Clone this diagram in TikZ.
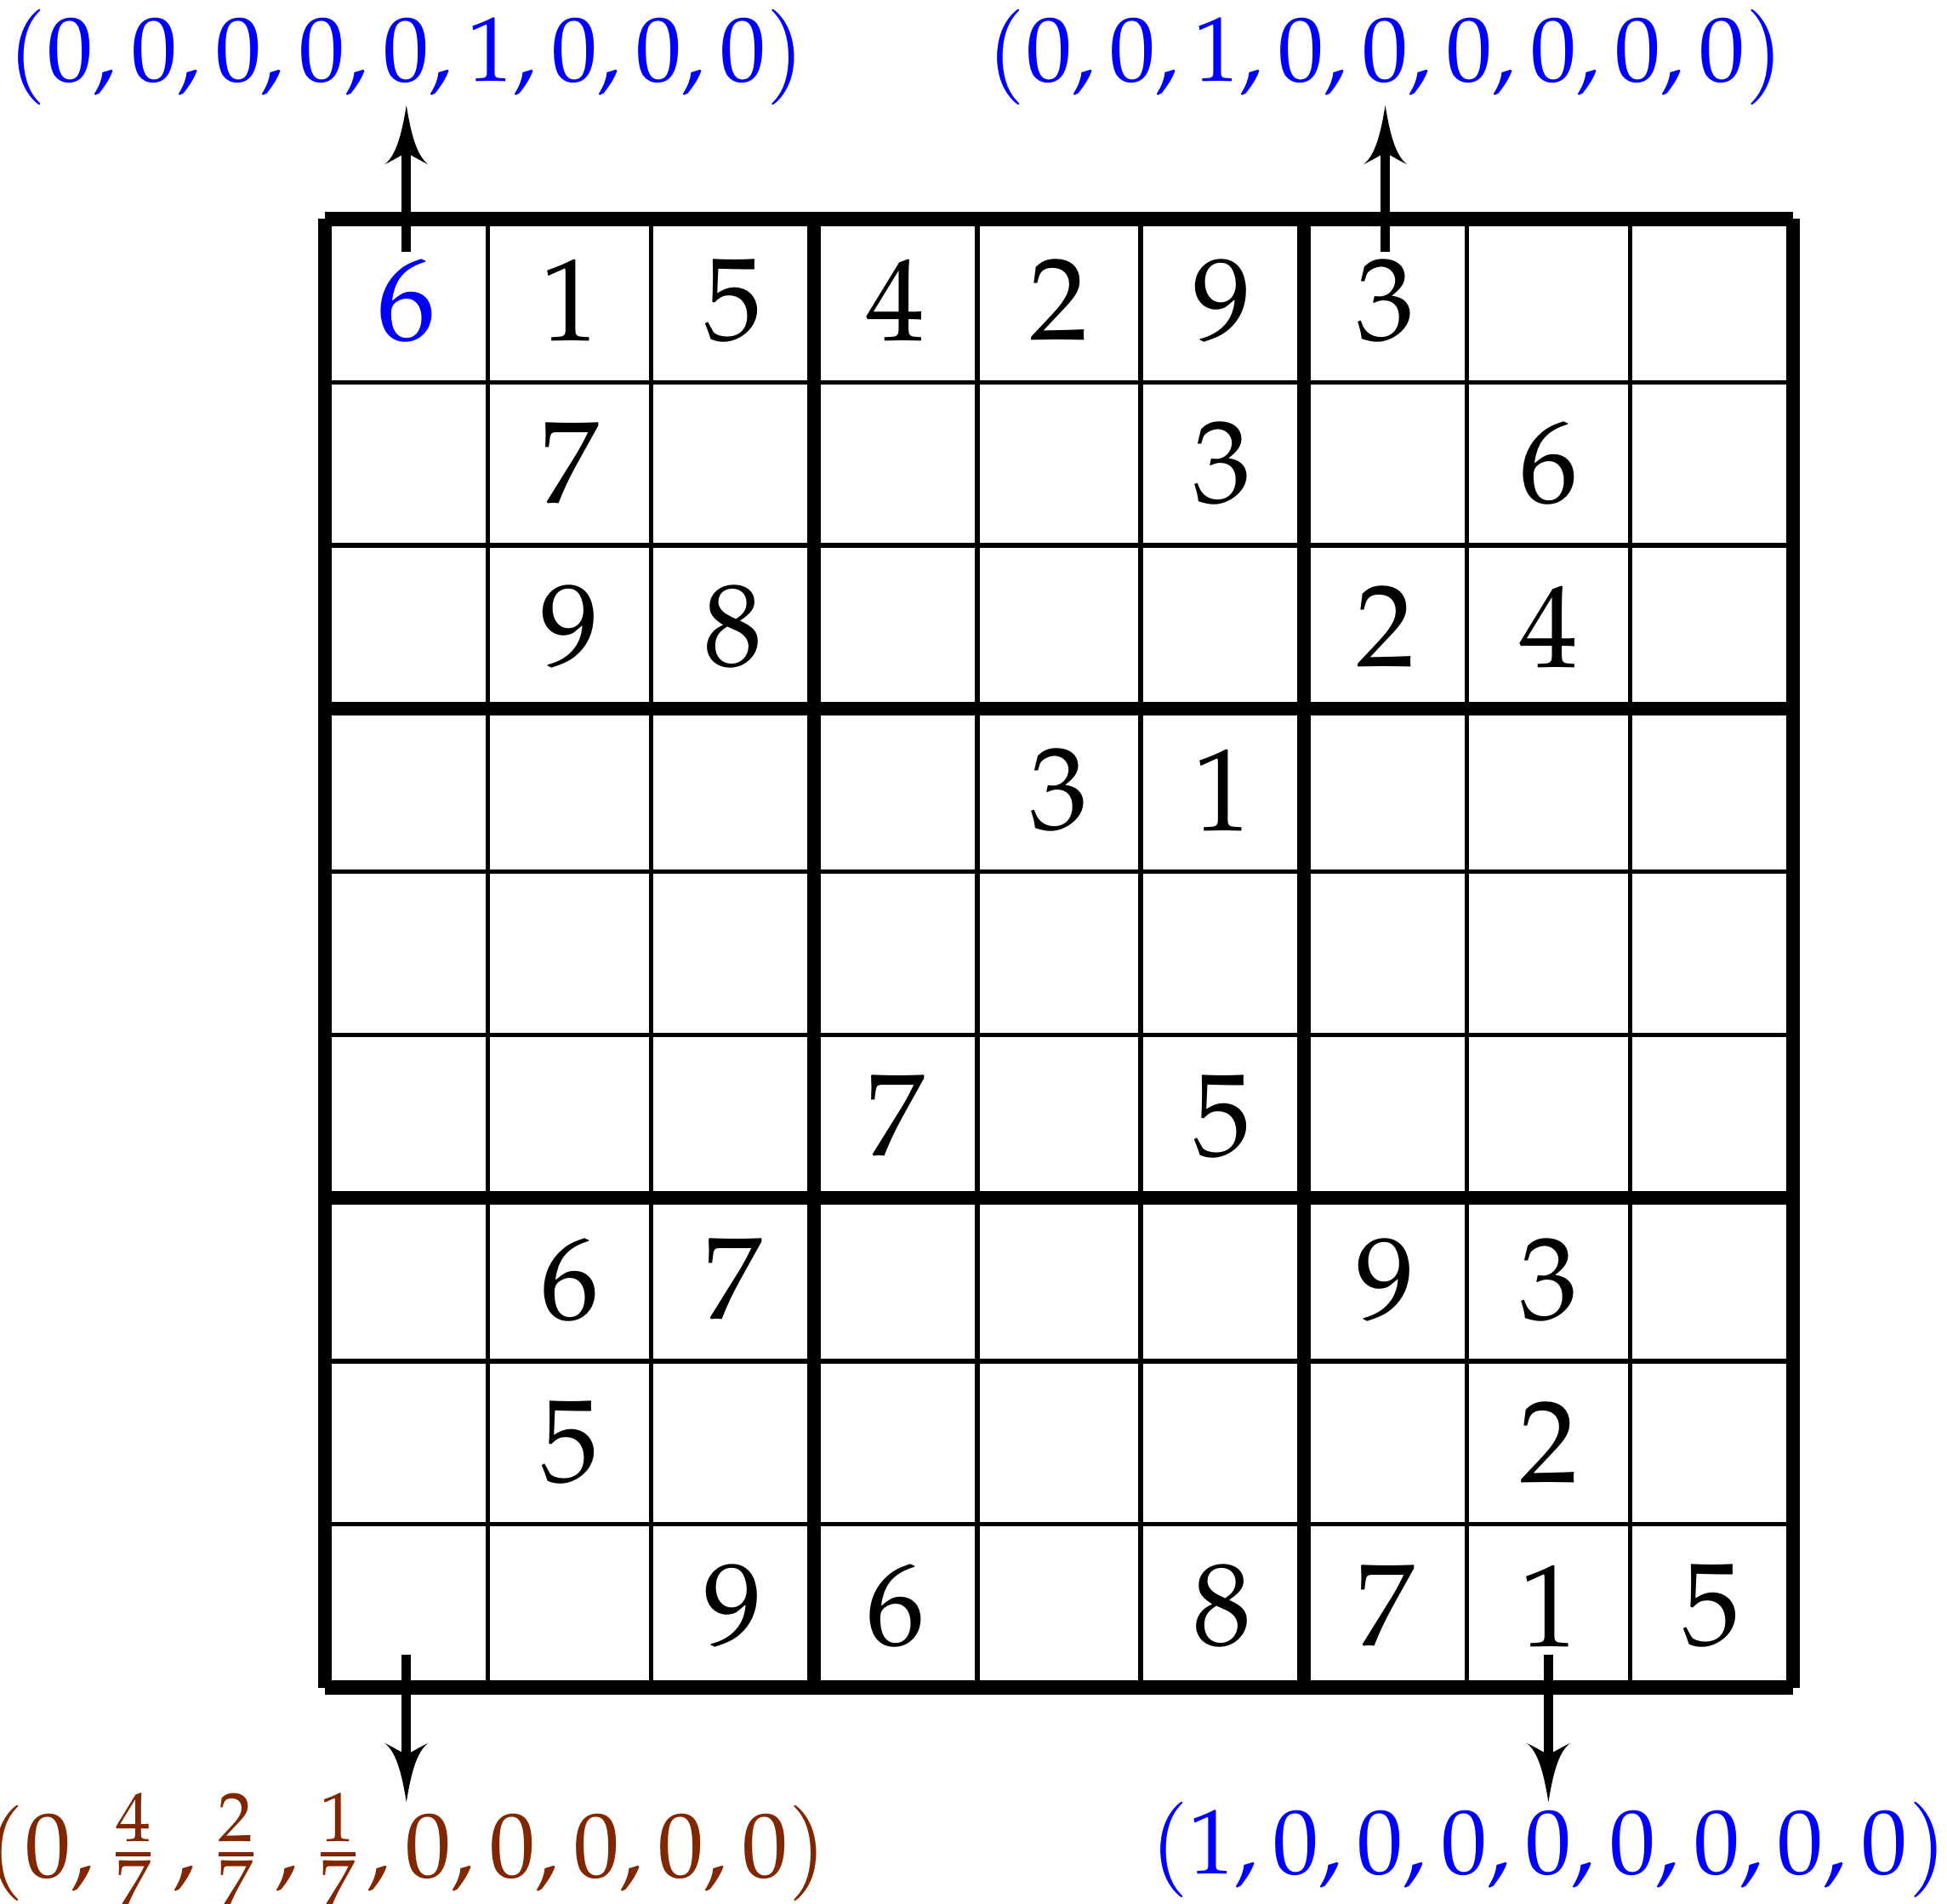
\documentclass[tikz,border=0pt]{standalone}
\usepackage{mathpazo}
\usetikzlibrary{arrows.meta}
\definecolor{labblue}{RGB}{0,0,255}
\definecolor{labbrown}{RGB}{128,38,0}
\pgfdeclarearrow{
  name = Curvy,
  parameters = {\the\pgfarrowlength,\the\pgfarrowwidth,\the\pgfarrowinset},
  setup code = {
    \pgfarrowssettipend{0pt}
    \pgfarrowssetlineend{-.7\pgfarrowlength}
    \pgfarrowssetbackend{-\pgfarrowlength}
    \pgfarrowshullpoint{0pt}{0pt}
    \pgfarrowshullpoint{-\pgfarrowlength}{.5\pgfarrowwidth}
    \pgfarrowshullpoint{-\pgfarrowlength}{-.5\pgfarrowwidth}
    \pgfarrowssavethe\pgfarrowlength
    \pgfarrowssavethe\pgfarrowwidth
    \pgfarrowssavethe\pgfarrowinset
  },
  drawing code = {
    \pgfpathmoveto{\pgfqpoint{0pt}{0pt}}
    \pgfpathcurveto{\pgfqpoint{-.45\pgfarrowlength}{.1\pgfarrowwidth}}{\pgfqpoint{-.85\pgfarrowlength}{.225\pgfarrowwidth}}{\pgfqpoint{-\pgfarrowlength}{.5\pgfarrowwidth}}
    \pgfpathcurveto{\pgfpointadd{\pgfqpoint{-\pgfarrowlength}{.3\pgfarrowwidth}}{\pgfqpoint{.35\pgfarrowinset}{0pt}}}{\pgfpointadd{\pgfqpoint{-\pgfarrowlength}{.12\pgfarrowwidth}}{\pgfqpoint{.85\pgfarrowinset}{0pt}}}{\pgfpointadd{\pgfqpoint{-\pgfarrowlength}{0pt}}{\pgfqpoint{\pgfarrowinset}{0pt}}}
    \pgfpathcurveto{\pgfpointadd{\pgfqpoint{-\pgfarrowlength}{-.12\pgfarrowwidth}}{\pgfqpoint{.85\pgfarrowinset}{0pt}}}{\pgfpointadd{\pgfqpoint{-\pgfarrowlength}{-.3\pgfarrowwidth}}{\pgfqpoint{.35\pgfarrowinset}{0pt}}}{\pgfqpoint{-\pgfarrowlength}{-.5\pgfarrowwidth}}
    \pgfpathcurveto{\pgfqpoint{-.85\pgfarrowlength}{-.225\pgfarrowwidth}}{\pgfqpoint{-.45\pgfarrowlength}{-.1\pgfarrowwidth}}{\pgfqpoint{0pt}{0pt}}
    \pgfpathclose
    \pgfusepathqfill
  },
  defaults = {length=3.6mm, width=2.65mm, inset=.67mm}
}
\tikzset{
  thinline/.style={line width=0.78pt, black},
  thickline/.style={line width=2.42pt, black},
  digit/.style={font=\fontsize{20.4}{24}\selectfont, inner sep=0pt},
  lab/.style={font=\fontsize{16}{19}\selectfont, inner sep=0pt, anchor=base},
  arr/.style={line width=1.58pt, black, -{Curvy}}
}
\begin{document}
\begin{tikzpicture}
\useasboundingbox (-1.991,-1.326) rectangle (9.943,10.342);
% grid
\foreach \i in {1,2,4,5,7,8} {
  \draw[thinline] (\i,0) -- (\i,9);
  \draw[thinline] (0,\i) -- (9,\i);
}
\foreach \i in {0,3,6,9} {
  \draw[thickline] (\i,0) -- (\i,9);
  \draw[thickline] (0,\i) -- (9,\i);
}
% given digits
\node[digit, text=labblue] (c11) at (0.5,8.5) {$6$};
\foreach \r/\c/\d in {1/2/1,1/3/5,1/4/4,1/5/2,1/6/9,1/7/3,
  2/2/7,2/6/3,2/8/6,
  3/2/9,3/3/8,3/7/2,3/8/4,
  4/5/3,4/6/1,
  6/4/7,6/6/5,
  7/2/6,7/3/7,7/7/9,7/8/3,
  8/2/5,8/8/2,
  9/3/9,9/4/6,9/6/8,9/7/7,9/8/1,9/9/5}
  \node[digit] (c\r\c) at (\c-0.5,9.5-\r) {$\d$};
% labels
\node[lab, text=labblue] (L1) at (0.5,9.844) {$(0,0,0,0,0,1,0,0,0)$};
\node[lab, text=labblue] (L2) at (6.5,9.844) {$(0,0,1,0,0,0,0,0,0)$};
\node[lab, text=labbrown] (L3) at (0.5,-1.162) {$(0,\frac{4}{7}\mkern3mu,\frac{2}{7}\mkern3mu,\frac{1}{7}\mkern1mu,0,0,0,0,0)$};
\node[lab, text=labblue] (L4) at (7.5,-1.141) {$(1,0,0,0,0,0,0,0,0)$};
% arrow ends
\coordinate (s1) at (0.5,8.8);
\coordinate (t1) at (0.5,9.696);
\coordinate (s2) at (6.5,8.8);
\coordinate (t2) at (6.5,9.696);
\coordinate (s3) at (0.5,0.2);
\coordinate (t3) at (0.5,-0.701);
\coordinate (s4) at (7.5,0.2);
\coordinate (t4) at (7.5,-0.701);
\draw[arr] (s1) -- (t1);
\draw[arr] (s2) -- (t2);
\draw[arr] (s3) -- (t3);
\draw[arr] (s4) -- (t4);
\end{tikzpicture}
\end{document}
